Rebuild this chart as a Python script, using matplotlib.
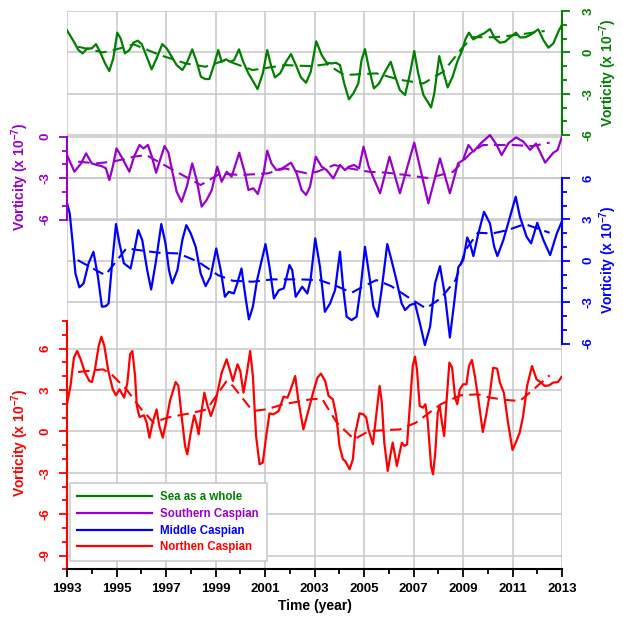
import matplotlib
matplotlib.use('Agg')
import matplotlib.pyplot as plt
from matplotlib.transforms import blended_transform_factory

plt.rcParams['font.family'] = ['Liberation Sans', 'DejaVu Sans']
plt.rcParams['font.weight'] = 'bold'
plt.rcParams['axes.unicode_minus'] = False
plt.rcParams['mathtext.fontset'] = 'custom'
plt.rcParams['mathtext.rm'] = 'Liberation Sans'
plt.rcParams['mathtext.bf'] = 'Liberation Sans:bold'

GREEN = '#008000'
PURPLE = '#9900cc'
BLUE = '#0000ff'
RED = '#ff0000'
GRID = '#c8c8c8'

# ---- Sea as a whole (green) ----
green_t = [1993.0, 1993.28, 1993.46, 1993.63, 1993.82, 1994.0, 1994.17, 1994.33, 1994.54, 1994.71,
           1994.87, 1995.03, 1995.17, 1995.34, 1995.52, 1995.68, 1995.86, 1996.02, 1996.22, 1996.42,
           1996.62, 1996.85, 1997.03, 1997.23, 1997.43, 1997.66, 1997.86, 1998.06, 1998.24, 1998.41,
           1998.58, 1998.75, 1998.94, 1999.11, 1999.25, 1999.42, 1999.59, 1999.75, 1999.95, 2000.12,
           2000.33, 2000.53, 2000.7, 2000.91, 2001.09, 2001.24, 2001.40, 2001.61, 2001.85, 2002.05,
           2002.25, 2002.45, 2002.66, 2002.85, 2003.07, 2003.29, 2003.49, 2003.69, 2003.87, 2004.03,
           2004.20, 2004.39, 2004.57, 2004.77, 2004.90, 2005.04, 2005.20, 2005.40, 2005.61, 2005.85,
           2006.08, 2006.25, 2006.45, 2006.66, 2006.86, 2007.03, 2007.19, 2007.40, 2007.57, 2007.71,
           2007.84, 2008.04, 2008.20, 2008.38, 2008.58, 2008.77, 2008.97, 2009.11, 2009.24, 2009.42,
           2009.62, 2009.85, 2010.09, 2010.29, 2010.49, 2010.70, 2010.93, 2011.14, 2011.30, 2011.50,
           2011.71, 2012.04, 2012.25, 2012.45, 2012.65, 2012.85, 2012.99]
green_v = [1.6, 0.77, 0.17, -0.07, 0.29, 0.29, 0.6, 0.05, -0.8, -1.35,
           -0.43, 1.43, 1.0, -0.07, 0.17, 0.7, 0.85, 0.6, -0.31, -1.23,
           -0.43, 0.6, 0.29, -0.31, -0.92, -1.28, -0.68, 0.22, -0.68, -1.76,
           -1.93, -1.93, -0.92, 0.17, -0.68, -0.5, -0.68, -0.56, 0.22, -0.68,
           -1.52, -2.13, -2.66, -1.52, 0.17, -0.92, -1.81, -1.52, -0.68, -0.12,
           -0.92, -1.81, -2.2, -1.4, 0.8, -0.19, -0.75, -0.8, -0.75, -0.92,
           -2.25, -3.4, -2.97, -2.25, -0.56, 0.24, -1.16, -2.61, -2.25, -1.4,
           -0.68, -1.71, -2.73, -3.09, -1.52, 0.1, -1.52, -3.09, -3.57, -3.99,
           -2.97, -0.27, -1.4, -2.54, -1.76, -0.68, 0.17, 1.01, 1.43, 0.94,
           1.18, 1.38, 1.69, 1.01, 0.7, 0.77, 1.14, 1.43, 1.09, 1.09,
           1.26, 1.67, 0.89, 0.34, 0.65, 1.5, 1.98]
green_trend_t = [1993.45, 1994.45, 1994.85, 1995.7, 1996.75, 1997.8, 1998.6, 1999.4, 2000.5, 2001.8,
                 2002.9, 2003.5, 2004.2, 2005.5, 2006.5, 2007.4, 2008.2, 2009.0, 2009.4, 2010.3,
                 2011.1, 2012.3]
green_trend_v = [0.41, 0.0, 0.15, 0.58, -0.19, -0.8, -1.04, -0.56, -1.28, -0.92,
                 -1.0, -0.85, -1.64, -1.52, -2.0, -2.25, -1.4, 0.4, 1.1, 1.1,
                 1.25, 1.55]

# ---- Southern Caspian (purple) ----
purple_t = [1993.0, 1993.30, 1993.57, 1993.77, 1994.0, 1994.2, 1994.40, 1994.57, 1994.71, 1994.85,
            1995.0, 1995.2, 1995.52, 1995.71, 1995.93, 1996.09, 1996.27, 1996.43, 1996.60, 1996.76,
            1996.94, 1997.1, 1997.27, 1997.43, 1997.63, 1997.84, 1998.06, 1998.24, 1998.44, 1998.64,
            1998.85, 1999.07, 1999.25, 1999.45, 1999.65, 1999.96, 2000.19, 2000.33, 2000.53, 2000.71,
            2000.94, 2001.09, 2001.26, 2001.46, 2001.70, 2002.05, 2002.28, 2002.48, 2002.66, 2002.82,
            2003.05, 2003.29, 2003.49, 2003.76, 2004.03, 2004.23, 2004.39, 2004.6, 2004.8, 2004.98,
            2005.19, 2005.65, 2006.03, 2006.45, 2007.03, 2007.6, 2008.07, 2008.47, 2008.8, 2009.0,
            2009.22, 2009.42, 2009.69, 2010.09, 2010.36, 2010.56, 2010.83, 2011.14, 2011.44, 2011.71,
            2011.95, 2012.32, 2012.65, 2012.82, 2012.99]
purple_v = [-1.33, -2.54, -1.93, -1.21, -1.93, -2.05, -2.13, -2.29, -3.14, -2.17,
            -0.85, -1.45, -2.54, -1.45, -0.6, -0.85, -0.6, -1.45, -2.61, -1.69,
            -0.68, -1.16, -2.66, -3.99, -4.71, -3.62, -1.93, -3.14, -5.07, -4.59,
            -3.86, -2.17, -3.26, -2.54, -2.9, -1.16, -2.66, -3.86, -3.74, -4.15,
            -2.66, -1.01, -1.93, -2.42, -2.29, -1.88, -2.66, -3.86, -4.22, -3.62,
            -1.45, -2.17, -2.42, -3.02, -2.05, -2.42, -2.17, -2.05, -2.29, -0.72,
            -2.17, -4.1, -1.45, -4.1, -0.43, -4.83, -1.57, -4.1, -1.93, -1.7,
            -0.6, -1.09, -0.53, 0.12, -0.6, -1.33, -0.48, -0.05, -0.36, -0.95,
            -0.5, -1.88, -1.16, -0.97, -0.05]
purple_trend_t = [1993.45, 1994.2, 1994.85, 1995.7, 1996.2, 1997.3, 1998.4, 1999.2, 2000.0, 2001.1,
                  2001.8, 2002.7, 2003.1, 2003.8, 2004.4, 2005.2, 2005.9, 2006.7, 2007.6, 2008.6,
                  2009.3, 2009.8, 2011.0, 2011.8, 2012.5]
purple_trend_v = [-1.81, -1.93, -1.81, -1.45, -1.33, -2.42, -3.5, -2.66, -2.78, -2.66,
                  -2.3, -2.66, -2.54, -2.05, -2.29, -2.54, -2.6, -2.78, -3.0, -2.54,
                  -1.2, -0.6, -0.6, -0.68, -0.43]

# ---- Middle Caspian (blue) ----
blue_t = [1993.0, 1993.11, 1993.23, 1993.34, 1993.50, 1993.67, 1993.87, 1994.07, 1994.25, 1994.41,
          1994.57, 1994.68, 1994.81, 1994.98, 1995.12, 1995.30, 1995.57, 1995.75, 1995.88, 1996.04,
          1996.24, 1996.40, 1996.58, 1996.81, 1996.98, 1997.12, 1997.25, 1997.46, 1997.66, 1997.82,
          1998.0, 1998.2, 1998.4, 1998.6, 1998.8, 1999.03, 1999.21, 1999.38, 1999.54, 1999.74,
          1999.88, 2000.05, 2000.22, 2000.35, 2000.51, 2000.68, 2001.02, 2001.18, 2001.36, 2001.56,
          2001.76, 2001.99, 2002.10, 2002.24, 2002.50, 2002.71, 2002.84, 2003.03, 2003.22, 2003.42,
          2003.63, 2003.83, 2004.03, 2004.16, 2004.30, 2004.50, 2004.70, 2004.87, 2005.04, 2005.24,
          2005.38, 2005.55, 2005.71, 2005.94, 2006.11, 2006.31, 2006.52, 2006.66, 2006.86, 2007.06,
          2007.26, 2007.46, 2007.67, 2007.87, 2008.07, 2008.28, 2008.47, 2008.64, 2008.81, 2009.01,
          2009.17, 2009.28, 2009.42, 2009.62, 2009.85, 2010.09, 2010.26, 2010.39, 2010.63, 2010.9,
          2011.13, 2011.30, 2011.57, 2011.75, 2012.0, 2012.25, 2012.52, 2012.79, 2012.99]
blue_v = [4.2, 3.43, 1.26, -0.92, -1.93, -1.64, -0.19, 0.65, -1.16, -3.33,
          -3.29, -3.09, -0.43, 2.66, 1.26, -0.19, -0.56, 1.01, 2.22, 1.5,
          -0.68, -2.08, -0.19, 2.66, 1.26, -0.68, -1.64, -0.68, 1.5, 2.58,
          1.98, 1.01, -0.92, -1.84, -1.16, 0.89, -0.68, -2.61, -2.25, -2.37,
          -1.64, -0.56, -2.73, -4.25, -3.33, -1.4, 1.21, -0.43, -2.73, -2.13,
          -2.0, -0.31, -0.68, -2.61, -1.88, -2.37, -1.4, 1.62, -0.43, -3.7,
          -3.09, -2.13, 0.65, -2.0, -4.06, -4.3, -4.06, -1.88, 1.01, -1.4,
          -3.33, -4.06, -2.13, 1.21, 0.05, -1.4, -3.09, -3.57, -3.21, -3.09,
          -4.54, -6.11, -4.78, -1.64, -0.39, -2.61, -5.56, -3.09, -0.48, 0.05,
          1.69, 1.26, 0.34, 1.98, 3.55, 2.7, 1.01, 0.34, 1.5, 3.19,
          4.64, 3.19, 1.74, 1.26, 2.75, 1.5, 0.41, 1.98, 2.83]
blue_trend_t = [1993.43, 1994.29, 1994.55, 1995.4, 1995.9, 1996.7, 1997.5, 1998.3, 1999.1, 1999.7,
                2000.5, 2001.3, 2002.4, 2003.2, 2003.9, 2004.5, 2004.9, 2005.5, 2006.1, 2006.8,
                2007.5, 2008.1, 2008.7, 2009.1, 2009.6, 2010.2, 2010.8, 2011.5, 2012.0, 2012.5]
blue_trend_v = [0.05, -0.8, -1.04, 0.9, 0.77, 0.58, 0.53, -0.07, -1.04, -1.45,
                -1.52, -1.35, -1.35, -1.4, -1.84, -2.32, -1.93, -1.4, -1.84, -2.66,
                -3.45, -2.73, -1.4, 0.77, 2.03, 1.98, 2.22, 2.66, 2.34, 2.03]

# ---- Northen Caspian (red) ----
red_t = [1993.0, 1993.14, 1993.28, 1993.41, 1993.55, 1993.73, 1993.90, 1994.01, 1994.13, 1994.28,
         1994.39, 1994.51, 1994.67, 1994.85, 1994.98, 1995.12, 1995.31, 1995.44, 1995.55, 1995.64,
         1995.75, 1995.82, 1995.93, 1996.11, 1996.22, 1996.33, 1996.46, 1996.62, 1996.73, 1996.87,
         1997.0, 1997.16, 1997.39, 1997.50, 1997.63, 1997.77, 1997.86, 1998.0, 1998.14, 1998.24,
         1998.32, 1998.45, 1998.55, 1998.68, 1998.81, 1998.98, 1999.25, 1999.45, 1999.59, 1999.70,
         1999.89, 2000.0, 2000.13, 2000.27, 2000.40, 2000.51, 2000.64, 2000.78, 2000.91, 2001.05,
         2001.18, 2001.34, 2001.55, 2001.75, 2001.91, 2002.04, 2002.22, 2002.35, 2002.55, 2002.75,
         2002.96, 2003.12, 2003.26, 2003.43, 2003.57, 2003.74, 2003.88, 2004.01, 2004.15, 2004.24,
         2004.42, 2004.55, 2004.65, 2004.82, 2004.98, 2005.09, 2005.18, 2005.36, 2005.52, 2005.63,
         2005.72, 2005.82, 2005.96, 2006.06, 2006.16, 2006.26, 2006.33, 2006.44, 2006.53, 2006.63,
         2006.74, 2006.87, 2006.97, 2007.06, 2007.14, 2007.25, 2007.38, 2007.48, 2007.57, 2007.71,
         2007.79, 2007.88, 2007.98, 2008.06, 2008.15, 2008.24, 2008.35, 2008.45, 2008.56, 2008.68,
         2008.77, 2008.87, 2009.01, 2009.14, 2009.24, 2009.36, 2009.48, 2009.62, 2009.80, 2009.93,
         2010.09, 2010.22, 2010.38, 2010.49, 2010.65, 2010.82, 2011.0, 2011.16, 2011.29, 2011.43,
         2011.59, 2011.79, 2011.97, 2012.13, 2012.30, 2012.48, 2012.64, 2012.84, 2012.98]
red_v = [1.96, 3.29, 5.34, 5.82, 5.22, 4.25, 3.65, 3.57, 4.49, 6.18,
         6.86, 6.18, 4.37, 3.04, 2.61, 3.04, 2.44, 3.53, 5.58, 5.82,
         4.01, 1.84, 1.04, 1.16, 0.63, -0.46, 0.63, 1.59, 0.39, -0.46,
         0.63, 2.2, 3.57, 3.29, 1.11, -1.06, -1.67, -0.1, 1.16, 0.51,
         -0.22, 1.59, 2.8, 1.84, 1.11, 1.96, 4.25, 5.22, 4.37, 3.65,
         4.86, 4.37, 2.8, 4.25, 5.82, 4.01, -0.34, -2.39, -2.27, -0.34,
         1.3, 1.23, 1.47, 2.51, 2.44, 3.04, 4.01, 2.2, 0.14, 1.47,
         2.92, 3.89, 4.18, 3.65, 2.56, 2.32, 1.11, -1.06, -2.03, -2.15,
         -2.75, -2.03, -0.1, 1.3, 1.23, 0.99, 0.14, -0.94, 1.59, 3.29,
         2.08, -0.82, -2.87, -1.79, -0.82, -1.79, -2.51, -1.55, -0.82, -1.06,
         -0.94, 2.32, 4.73, 5.41, 4.49, 1.84, 1.71, 1.96, 0.87, -2.51,
         -3.12, -1.55, 1.35, 1.84, 0.63, -0.34, 2.56, 4.98, 4.61, 2.44,
         1.96, 3.04, 3.41, 3.41, 4.73, 5.17, 4.01, 2.32, -0.05, 1.11,
         2.8, 4.61, 4.54, 3.53, 2.8, 0.63, -1.35, -0.7, -0.1, 1.11,
         3.29, 4.73, 3.77, 3.57, 3.29, 3.33, 3.53, 3.57, 3.94]
red_trend_t = [1993.45, 1994.45, 1994.8, 1995.4, 1995.95, 1996.5, 1997.05, 1998.1, 1998.65, 1999.45,
               1999.7, 2000.5, 2001.05, 2001.75, 2002.85, 2003.3, 2003.9, 2004.6, 2005.2, 2006.45,
               2007.1, 2008.1, 2008.9, 2009.6, 2010.1, 2010.75, 2011.3, 2011.85, 2012.5]
red_trend_v = [4.3, 4.49, 4.13, 3.04, 1.71, 0.63, 0.99, 1.35, 1.59, 3.65,
               3.29, 1.47, 1.59, 1.96, 2.32, 2.37, 0.63, -0.58, 0.02, 0.14,
               0.63, 1.96, 2.61, 2.68, 2.44, 2.27, 2.2, 3.04, 4.06]

labels = ['Sea as a whole', 'Southern Caspian', 'Middle Caspian', 'Northen Caspian']
ylab = r'Vorticity (x 10$^{-7}$)'
years = list(range(1993, 2014, 2))

fig = plt.figure(figsize=(6.23, 6.17), dpi=100)
rect = [67 / 623, 1 - 569.3 / 617, (562 - 67) / 623, (569.3 - 11) / 617]
ax_red = fig.add_axes(rect)
ax_blue = fig.add_axes(rect, sharex=ax_red, facecolor='none')
ax_purple = fig.add_axes(rect, sharex=ax_red, facecolor='none')
ax_green = fig.add_axes(rect, sharex=ax_red, facecolor='none')


def setup_axis(ax, side, color, lim, lo, hi, majors):
    ax.set_ylim(lim)
    for s in ax.spines.values():
        s.set_visible(False)
    sp = ax.spines[side]
    sp.set_visible(True)
    sp.set_color(color)
    sp.set_linewidth(1.5)
    sp.set_bounds(lo, hi)
    if side == 'right':
        ax.yaxis.tick_right()
    ax.set_yticks(majors)
    ax.set_yticks(list(range(lo, hi + 1)), minor=True)
    ax.tick_params(axis='y', which='both', colors=color, direction='out', width=1.3)
    ax.tick_params(axis='y', which='major', length=6, labelsize=9.5, labelrotation=90,
                   pad=9 if side == 'right' else 5)
    ax.tick_params(axis='y', which='minor', length=3.5)
    for lab in ax.get_yticklabels():
        lab.set_fontweight('bold')
        lab.set_va('center')


setup_axis(ax_red, 'left', RED, (-10, 30.46), -10, 8, [6, 3, 0, -3, -6, -9])
setup_axis(ax_blue, 'right', BLUE, (-22.36, 18.10), -6, 6, [6, 3, 0, -3, -6])
setup_axis(ax_purple, 'left', PURPLE, (-31.35, 9.11), -6, 0, [0, -3, -6])
setup_axis(ax_green, 'right', GREEN, (-37.46, 3.0), -6, 3, [3, 0, -3, -6])

for ax in (ax_blue, ax_purple, ax_green):
    ax.tick_params(axis='x', which='both', bottom=False, labelbottom=False)

# x axis on the bottom (red) axes
ax_red.spines['bottom'].set_visible(True)
ax_red.spines['bottom'].set_color('black')
ax_red.spines['bottom'].set_linewidth(1.5)
ax_red.set_xlim(1993, 2013)
ax_red.set_xticks(years)
ax_red.set_xticks(list(range(1994, 2013, 2)), minor=True)
ax_red.tick_params(axis='x', which='both', colors='black', direction='out', width=1.3)
ax_red.tick_params(axis='x', which='major', length=6, labelsize=9.5, pad=4)
ax_red.tick_params(axis='x', which='minor', length=3.5)
ax_red.set_xlabel('Time (year)', fontsize=10, fontweight='bold', labelpad=3)

# grid: all drawn on the bottom axes so it stays under every curve
ax_red.grid(axis='x', which='major', color=GRID, lw=1.1, zorder=0)
for ax, ticks in ((ax_red, [6, 3, 0, -3, -6, -9]), (ax_blue, [6, 3, 0, -3]),
                  (ax_purple, [0, -3, -6]), (ax_green, [3, 0, -3, -6])):
    tr = blended_transform_factory(ax_red.transAxes, ax.transData)
    for y in ticks:
        ax_red.plot([0, 1], [y, y], color=GRID, lw=1.1, transform=tr, zorder=0.5)
ax_red.set_xlim(1993, 2013)
ax_red.set_ylim(-10, 30.46)

dash = (0, (5.5, 3))
handles = []
for ax, t, v, tt, tv, c in ((ax_green, green_t, green_v, green_trend_t, green_trend_v, GREEN),
                            (ax_purple, purple_t, purple_v, purple_trend_t, purple_trend_v, PURPLE),
                            (ax_blue, blue_t, blue_v, blue_trend_t, blue_trend_v, BLUE),
                            (ax_red, red_t, red_v, red_trend_t, red_trend_v, RED)):
    h, = ax.plot(t, v, color=c, lw=1.6, zorder=3)
    ax.plot(tt, tv, color=c, lw=1.5, ls=dash, zorder=3)
    handles.append(h)

leg = ax_red.legend(handles, labels, loc='lower left', bbox_to_anchor=(0.006, 0.015),
                    borderaxespad=0, handlelength=6.5, handletextpad=0.7,
                    labelspacing=0.42, borderpad=0.65, fancybox=False, framealpha=1,
                    edgecolor=GRID, prop={'weight': 'bold', 'size': 8.3})
leg.get_frame().set_linewidth(1.1)
for txt, c in zip(leg.get_texts(), [GREEN, PURPLE, BLUE, RED]):
    txt.set_color(c)

# axis titles for each band
fig.text(608 / 623, 1 - 73 / 617, ylab, color=GREEN, rotation=90, ha='center', va='center',
         fontsize=10, fontweight='bold')
fig.text(20 / 623, 1 - 177 / 617, ylab, color=PURPLE, rotation=90, ha='center', va='center',
         fontsize=10, fontweight='bold')
fig.text(608 / 623, 1 - 260 / 617, ylab, color=BLUE, rotation=90, ha='center', va='center',
         fontsize=10, fontweight='bold')
fig.text(20 / 623, 1 - 443 / 617, ylab, color=RED, rotation=90, ha='center', va='center',
         fontsize=10, fontweight='bold')

fig.savefig('out.png', dpi=100)
